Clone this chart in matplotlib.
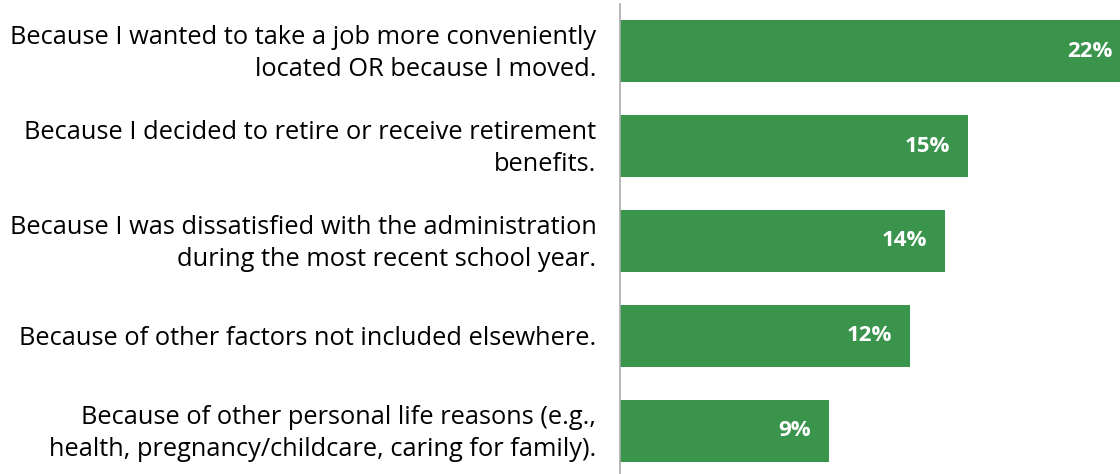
import matplotlib
matplotlib.use("Agg")
import matplotlib.pyplot as plt
import matplotlib.transforms as mtransforms

reasons = [
    "Because I wanted to take a job more conveniently\nlocated OR because I moved.",
    "Because I decided to retire or receive retirement\nbenefits.",
    "Because I was dissatisfied with the administration\nduring the most recent school year.",
    "Because of other factors not included elsewhere.",
    "Because of other personal life reasons (e.g.,\nhealth, pregnancy/childcare, caring for family).",
]
values = [22.0, 15.0, 14.0, 12.5, 9.0]
value_labels = ["22%", "15%", "14%", "12%", "9%"]

green = "#3b944c"

plt.rcParams['font.family'] = ['Open Sans', 'DejaVu Sans']
fig = plt.figure(figsize=(11.2, 4.74), dpi=100)
ax = fig.add_axes([620 / 1120, 0, 500 / 1120, 470 / 474])

ypos = list(range(len(values)))
ax.barh(ypos, values, height=0.66, color=green)
# the longest bar runs past the right edge, as in the original
ax.set_xlim(0, 500 / 23.2)
ax.set_ylim(4.453, -0.495)

for y, v, lab in zip(ypos, values, value_labels):
    ax.text(v - 18 / 23.2, y, lab, color="white", fontsize=16, fontweight="bold",
            ha="right", va="center")

ax.set_yticks(ypos)
ax.set_yticklabels(reasons, fontsize=18.3, ha="right", linespacing=1.38)
ax.tick_params(axis="y", length=0, pad=17)
# two-line labels sit a little high in the original
up = mtransforms.ScaledTranslation(0, 4 / 100, fig.dpi_scale_trans)
for t in ax.get_yticklabels():
    if "\n" in t.get_text():
        t.set_transform(t.get_transform() + up)
ax.set_xticks([])
for s in ["top", "right", "bottom"]:
    ax.spines[s].set_visible(False)
ax.spines["left"].set_color("#aaaaaa")
ax.spines["left"].set_linewidth(1.2)

fig.savefig("out.png", dpi=100)
